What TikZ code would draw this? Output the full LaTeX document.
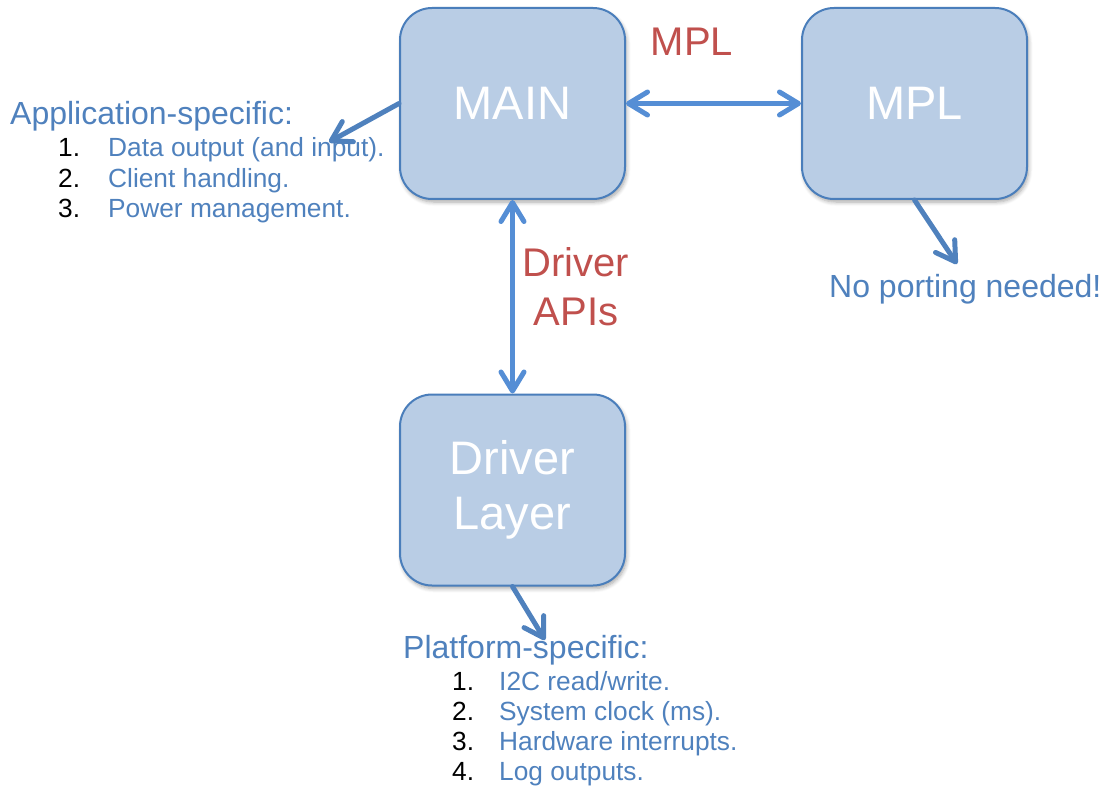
\documentclass[tikz,border=0pt]{standalone}
\usepackage{fontspec}
\setmainfont{Liberation Sans}
\usetikzlibrary{arrows.meta,shadows.blur}

\definecolor{boxfill}{HTML}{B9CDE5}
\definecolor{boxline}{HTML}{4A7EBB}
\definecolor{linkblue}{HTML}{558ED5}
\definecolor{noteblue}{HTML}{4F81BD}
\definecolor{labelred}{HTML}{C0504D}

\tikzset{
  block/.style={draw=boxline, line width=2pt, fill=boxfill, rounded corners=32pt,
    minimum width=225pt, minimum height=191pt, inner sep=0pt, text=white,
    font=\fontsize{47}{55}\selectfont, align=center,
    blur shadow={shadow xshift=1.5pt, shadow yshift=-3pt, shadow opacity=35, shadow blur steps=6, shadow blur radius=4pt}},
  tip/.tip={Straight Barb[length=19pt,width=23pt,round]},
  link/.style={draw=linkblue, line width=5pt, line cap=round, {tip}-{tip}},
  pointer/.style={draw=noteblue, line width=5pt, line cap=round, -{tip}},
  heading/.style={anchor=base west, inner sep=0pt, text=noteblue, font=\fontsize{32}{38}\selectfont},
  num/.style={anchor=base west, inner sep=0pt, text=black, font=\fontsize{26.3}{31}\selectfont},
  item/.style={anchor=base west, inner sep=0pt, text=noteblue, font=\fontsize{26.3}{31}\selectfont},
  linklabel/.style={inner sep=0pt, text=labelred, font=\fontsize{40}{49}\selectfont, align=center}
}

\begin{document}
\begin{tikzpicture}[x=1pt, y=-1pt]
\useasboundingbox (0,0) rectangle (1103,786);

% the three blocks
\node[block] (main) at (512.5,103.5) {MAIN};
\node[block] (mpl) at (914.5,103.5) {MPL};
\node[block] (drv) at (512.5,490) {Driver\\Layer};

% interfaces between blocks
\draw[link] (main.east) -- (mpl.west);
\draw[link] (main.south) -- (drv.north);
\node[linklabel, anchor=base] (mpllabel) at (692,56) {MPL};
\node[linklabel, anchor=north] (apilabel) at (576,247) {Driver\\APIs};

% notes
\coordinate (apptip) at (329,142);
\coordinate (mpltip) at (957,264);
\coordinate (drvtip) at (545,640);
\draw[pointer] (main.west) -- (apptip);
\draw[pointer] (mpl.south) -- (mpltip);
\draw[pointer] (drv.south) -- (drvtip);

\node[heading] (apphead) at (10,125) {Application-specific:};
\node[num] (appn1) at (58,157) {1.};
\node[item] (appi1) at (108,157) {Data output (and input).};
\node[num] (appn2) at (58,187.5) {2.};
\node[item] (appi2) at (108,187.5) {Client handling.};
\node[num] (appn3) at (58,218) {3.};
\node[item] (appi3) at (108,218) {Power management.};

\node[heading] (noport) at (829,298) {No porting needed!};

\node[heading] (plathead) at (403,658) {Platform-specific:};
\node[num] (platn1) at (452,690) {1.};
\node[item] (plati1) at (499,690) {I2C read/write.};
\node[num] (platn2) at (452,720) {2.};
\node[item] (plati2) at (499,720) {System clock (ms).};
\node[num] (platn3) at (452,750.5) {3.};
\node[item] (plati3) at (499,750.5) {Hardware interrupts.};
\node[num] (platn4) at (452,780.5) {4.};
\node[item] (plati4) at (499,780.5) {Log outputs.};
\end{tikzpicture}
\end{document}
